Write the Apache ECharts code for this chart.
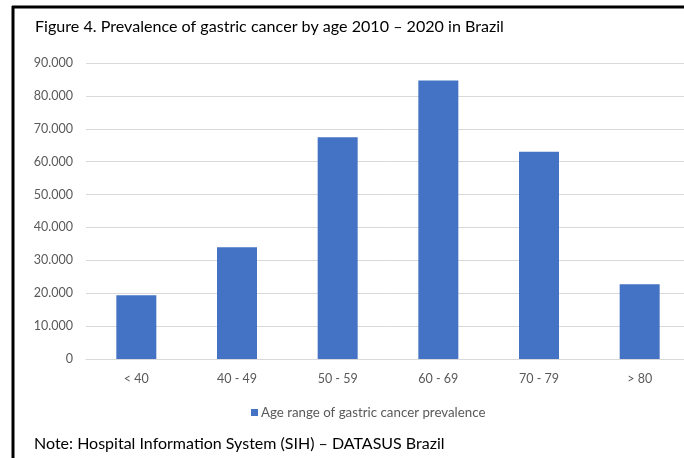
<!DOCTYPE html>
<html>
<head>
<meta charset="utf-8">
<script src="https://cdn.jsdelivr.net/npm/echarts@6/dist/echarts.min.js"></script>
<style>
  html, body { margin: 0; padding: 0; background: #fff; }
  #chart { width: 684px; height: 458px; }
</style>
</head>
<body>
<div id="chart"></div>
<script>
// Data
const ageRanges = ['< 40', '40 - 49', '50 - 59', '60 - 69', '70 - 79', '> 80'];
const prevalence = [19400, 34000, 67400, 84700, 63000, 22700];
const seriesName = 'Age range of gastric cancer prevalence';
const titleText = 'Figure 4. Prevalence of gastric cancer by age 2010 \u2013 2020 in Brazil';
const noteText = 'Note: Hospital Information System (SIH) \u2013 DATASUS Brazil';

const chart = echarts.init(document.getElementById('chart'), null, { renderer: 'canvas' });

// thousands with a dot, like the original (10.000)
function fmt(v) {
  return String(v).replace(/\B(?=(\d{3})+(?!\d))/g, '.');
}

const options = {
  backgroundColor: '#ffffff',
  animation: false,
  title: {
    text: titleText,
    left: 30,
    top: 14,
    textStyle: {
      fontFamily: 'Lato',
      fontWeight: 'normal',
      fontSize: 16.1,
      color: '#000000',
    },
  },
  grid: {
    left: 86,
    right: -6,
    top: 63,
    bottom: 99,
    outerBoundsMode: 'none',
  },
  legend: {
    left: 246,
    top: 401,
    icon: 'rect',
    itemWidth: 7,
    itemHeight: 7,
    itemGap: 4,
    textStyle: {
      fontFamily: 'Lato',
      fontSize: 13.3,
      color: '#595959',
      padding: [0, 0, 0, -2],
    },
    data: [seriesName],
  },
  xAxis: {
    type: 'category',
    data: ageRanges,
    axisTick: { show: false },
    axisLine: { lineStyle: { color: '#d9d9d9', width: 1 } },
    axisLabel: {
      color: '#595959',
      fontFamily: 'Lato',
      fontSize: 12.5,
      margin: 13,
    },
  },
  yAxis: {
    type: 'value',
    min: 0,
    max: 90000,
    interval: 10000,
    axisLine: { show: false },
    axisTick: { show: false },
    splitLine: { lineStyle: { color: '#d9d9d9', width: 1 } },
    axisLabel: {
      color: '#595959',
      fontFamily: 'Lato',
      fontSize: 12.5,
      margin: 13,
      formatter: fmt,
    },
  },
  series: [{
    name: seriesName,
    type: 'bar',
    data: prevalence,
    barWidth: 40,
    itemStyle: { color: '#4472c4' },
  }],
  graphic: [
    // frame lines at the top and left of the figure
    { type: 'line', shape: { x1: 12, y1: 7, x2: 684, y2: 7 }, style: { stroke: '#000', lineWidth: 3 } },
    { type: 'line', shape: { x1: 13, y1: 6, x2: 13, y2: 458 }, style: { stroke: '#000', lineWidth: 3 } },
    {
      type: 'text',
      left: 34,
      top: 436,
      style: {
        text: noteText,
        fontFamily: 'Lato',
        fontSize: 16,
        fill: '#000000',
      },
    },
  ],
};

chart.setOption(options);
</script>
</body>
</html>
